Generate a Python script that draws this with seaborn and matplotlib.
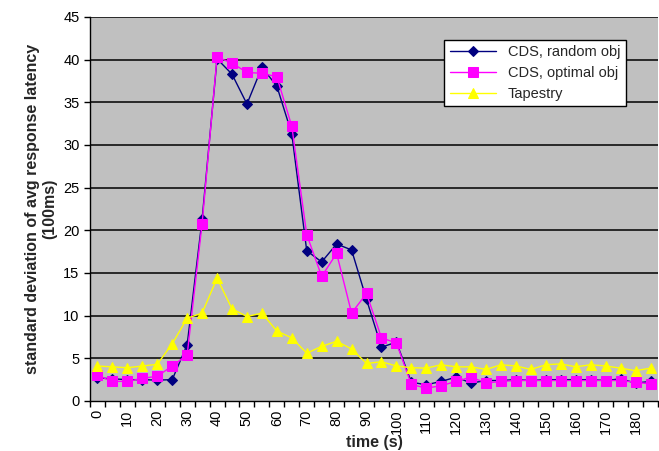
import numpy as np
import pandas as pd
import matplotlib
matplotlib.use("Agg")
import matplotlib.pyplot as plt
import seaborn as sns

time_s = list(range(0, 190, 5))
cds_random = [2.7, 2.6, 2.5, 2.5, 2.45, 2.5, 6.6, 21.3, 40.1, 38.3, 34.8, 39.1, 36.9, 31.3,
              17.6, 16.3, 18.4, 17.7, 11.9, 6.3, 6.9, 2.2, 1.9, 2.3, 2.8, 2.1, 2.4, 2.4,
              2.5, 2.4, 2.5, 2.5, 2.5, 2.5, 2.4, 2.6, 2.1, 2.3]
cds_optimal = [3.0, 2.3, 2.3, 2.65, 2.9, 4.1, 5.4, 20.8, 40.3, 39.6, 38.5, 38.4, 38.0, 32.2,
               19.5, 14.6, 17.3, 10.3, 12.6, 7.4, 6.8, 1.95, 1.5, 1.8, 2.3, 2.8, 2.1, 2.3,
               2.4, 2.4, 2.4, 2.4, 2.4, 2.4, 2.4, 2.4, 2.2, 2.0]
tapestry = [4.1, 4.0, 3.9, 4.1, 4.3, 6.7, 9.7, 10.3, 14.4, 10.8, 9.9, 10.3, 8.2, 7.4,
            5.6, 6.4, 7.0, 6.1, 4.4, 4.6, 4.1, 3.9, 3.85, 4.25, 4.0, 4.0, 3.7, 4.25,
            4.1, 3.7, 4.25, 4.35, 4.0, 4.25, 4.1, 3.85, 3.55, 3.85]
series_names = ["CDS, random obj", "CDS, optimal obj", "Tapestry"]
x_tick_labels = [str(v) for v in range(0, 190, 10)]

sns.set_style("white")
plt.rcParams['font.family'] = ['Liberation Sans', 'DejaVu Sans']

fig = plt.figure(figsize=(6.59, 4.51), dpi=100)
ax = fig.add_axes([90/659, 50/451, 568/659, 384/451])
ax.set_facecolor("#C0C0C0")

df = pd.DataFrame({"time": time_s * 3,
                   "value": cds_random + cds_optimal + tapestry,
                   "series": [series_names[0]] * len(time_s) + [series_names[1]] * len(time_s)
                   + [series_names[2]] * len(time_s)})

styles = {
    series_names[0]: dict(color="#000080", marker="D", ms=5.5),
    series_names[1]: dict(color="#FF00FF", marker="s", ms=6.5),
    series_names[2]: dict(color="#FFFF00", marker="^", ms=7.5),
}

for yv in range(5, 50, 5):
    ax.axhline(yv, color="black", lw=1.1, zorder=1)

for name in series_names:
    st = styles[name]
    sns.lineplot(data=df[df["series"] == name], x="time", y="value", ax=ax,
                 color=st["color"], marker=st["marker"], markersize=st["ms"],
                 markeredgecolor=st["color"], linewidth=1.0, label=name,
                 legend=False, zorder=3, errorbar=None)

ax.set_xlim(-2.5, 187.5)
ax.set_ylim(0, 45)
ax.set_yticks(range(0, 50, 5))
ax.set_xticks(range(0, 190, 10))
ax.set_xticklabels(x_tick_labels, rotation=90)
ax.set_xticks(np.arange(-2.5, 190, 5), minor=True)
ax.tick_params(axis="x", which="major", length=0, labelsize=10.5, pad=6, colors="black")
ax.tick_params(axis="x", which="minor", length=4, width=1, direction="out", color="black", bottom=True)
ax.tick_params(axis="y", which="major", length=4, width=1, direction="out", labelsize=10.5,
               left=True, colors="black")

for s in ["top", "right"]:
    ax.spines[s].set_visible(False)
for s in ["left", "bottom"]:
    ax.spines[s].set_color("black")
    ax.spines[s].set_linewidth(1.0)

ax.set_xlabel("time (s)", fontsize=11.5, fontweight="bold", labelpad=1)
ax.set_ylabel("standard deviation of avg response latency\n(100ms)", fontsize=11.5,
              fontweight="bold", labelpad=4, linespacing=1.25)

leg = ax.legend(loc="upper right", bbox_to_anchor=(0.957, 0.96), fontsize=10.5,
                frameon=True, fancybox=False, framealpha=1, edgecolor="black",
                handlelength=3.2, borderpad=0.4, labelspacing=0.45)
leg.get_frame().set_linewidth(1.0)
leg.set_zorder(5)

fig.savefig("out.png", dpi=100, facecolor="white")
